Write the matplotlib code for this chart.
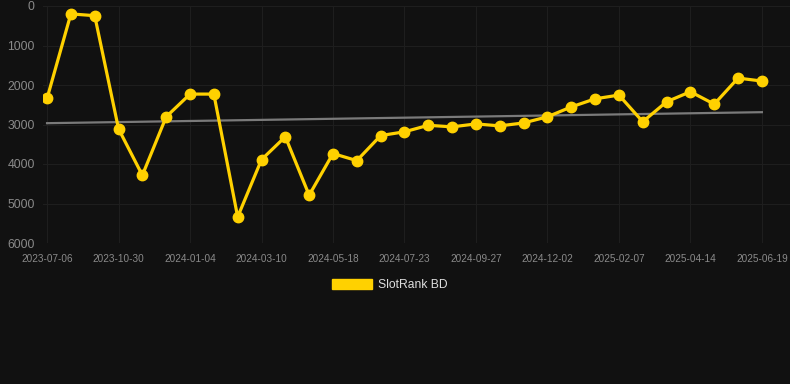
import matplotlib.pyplot as plt
import matplotlib.patches as mpatches
import numpy as np

# Данные: ранг по периодам (меньше = лучше)
tick_labels = ['2023-07-06', '2023-10-30', '2024-01-04', '2024-03-10', '2024-05-18',
               '2024-07-23', '2024-09-27', '2024-12-02', '2025-02-07', '2025-04-14',
               '2025-06-19']
ranks = [2340, 200, 245, 3110, 4285, 2805, 2230, 2230, 5340, 3890,
         3310, 4790, 3735, 3915, 3280, 3185, 3020, 3060, 2985, 3035,
         2960, 2805, 2555, 2350, 2255, 2930, 2425, 2170, 2485, 1825,
         1900]
series_name = 'SlotRank BD'

bg = '#111111'
gold = '#FFD100'

x = np.arange(len(ranks))
y = np.array(ranks)

fig = plt.figure(figsize=(7.9, 3.84), dpi=100, facecolor=bg)
ax = fig.add_axes([43 / 790, 1 - 243 / 384, 1 - 43 / 790, 237 / 384])
ax.set_facecolor(bg)

# Линия тренда
k, b = np.polyfit(x, y, 1)
ax.plot(x, k * x + b, color='#7a7a7a', linewidth=1.6, zorder=2)

ax.plot(x, y, '-o', color=gold, linewidth=2.3, markersize=7.5, zorder=3)

ax.set_ylim(6000, 0)
ax.set_xlim(-0.17, 31.18)
ax.set_yticks(range(0, 6001, 1000))
ax.set_xticks(x[::3])
ax.set_xticklabels(tick_labels)

ax.grid(True, color='#1e1e1e', linewidth=0.8)
ax.set_axisbelow(True)
for s in ax.spines.values():
    s.set_visible(False)
ax.tick_params(axis='both', length=0, colors='#8a8a8a')
ax.tick_params(axis='y', labelsize=8.8, pad=6)
ax.tick_params(axis='x', labelsize=7.2, pad=8)
for lbl in ax.get_xticklabels() + ax.get_yticklabels():
    lbl.set_fontfamily('Liberation Sans')

handle = mpatches.Patch(facecolor=gold, edgecolor=gold, label=series_name)
leg = fig.legend(handles=[handle], loc='center', bbox_to_anchor=(390 / 790, 1 - 285 / 384),
                 frameon=False, handlelength=3.3, handleheight=0.9, handletextpad=0.5,
                 prop={'family': 'Liberation Sans', 'size': 8.7})
for t in leg.get_texts():
    t.set_color('#dddddd')

fig.savefig('out.png', dpi=100, facecolor=bg)
